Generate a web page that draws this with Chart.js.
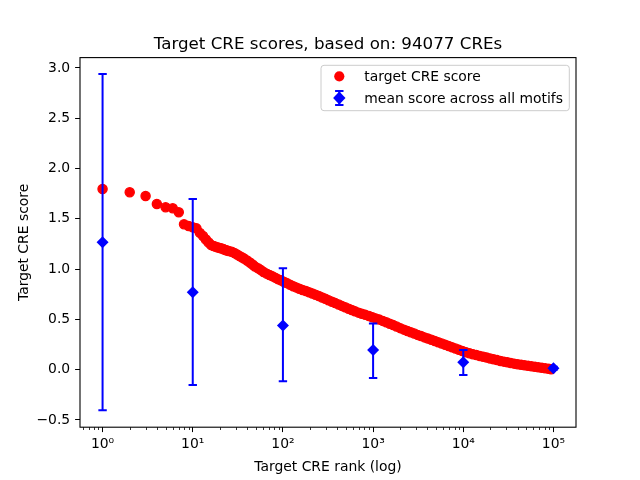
<!DOCTYPE html>
<html>
<head>
<meta charset="utf-8">
<script src="https://cdn.jsdelivr.net/npm/chart.js@4/dist/chart.umd.min.js"></script>
<style>
  html, body { margin: 0; padding: 0; background: #fff; }
  #wrap { width: 640px; height: 480px; }
</style>
</head>
<body>
<div id="wrap"><canvas id="myChart" width="640" height="480"></canvas></div>
<script>
// target CRE score by rank
var creRank = [1, 2, 3, 4, 5, 6, 7, 8, 9, 10, 11, 12, 13, 14, 15, 16, 17, 18, 19, 20,
  21, 22, 23, 24, 25, 27, 29, 31, 33, 35, 37, 40, 43, 46, 49, 53, 57, 61, 66, 71,
  76, 82, 88, 95, 102, 110, 120, 130, 140, 152, 165, 180, 195, 212, 230, 250, 272, 295, 320, 350,
  380, 415, 450, 490, 535, 580, 630, 690, 750, 820, 900, 980, 1070, 1170, 1280, 1400, 1530, 1670, 1820, 2000,
  2200, 2400, 2620, 2860, 3120, 3400, 3720, 4060, 4430, 4840, 5280, 5770, 6300, 6880, 7510, 8200, 8950, 9770, 10700, 11700,
  12800, 14000, 15300, 16700, 18200, 19900, 21700, 23700, 25900, 28300, 30900, 33700, 36800, 40200, 43900, 47900, 52300, 57100, 62400, 68100,
  74400, 81200, 88700, 94077];
var creScore = [1.797, 1.764, 1.727, 1.648, 1.615, 1.605, 1.565, 1.446, 1.429, 1.416, 1.405, 1.36, 1.33, 1.295, 1.265, 1.24, 1.23, 1.222, 1.215, 1.21,
  1.205, 1.198, 1.19, 1.185, 1.18, 1.172, 1.16, 1.145, 1.13, 1.118, 1.105, 1.085, 1.065, 1.045, 1.025, 1.008, 0.99, 0.972, 0.955, 0.942,
  0.93, 0.915, 0.9, 0.888, 0.875, 0.862, 0.845, 0.83, 0.818, 0.805, 0.793, 0.782, 0.77, 0.758, 0.745, 0.732, 0.718, 0.705, 0.69, 0.676,
  0.662, 0.648, 0.634, 0.62, 0.606, 0.593, 0.58, 0.567, 0.556, 0.545, 0.534, 0.522, 0.51, 0.498, 0.485, 0.471, 0.457, 0.443, 0.429, 0.413,
  0.398, 0.385, 0.372, 0.359, 0.346, 0.334, 0.321, 0.309, 0.297, 0.285, 0.272, 0.26, 0.247, 0.235, 0.222, 0.21, 0.197, 0.185, 0.174, 0.164,
  0.154, 0.145, 0.136, 0.128, 0.12, 0.111, 0.103, 0.095, 0.087, 0.08, 0.073, 0.066, 0.06, 0.054, 0.048, 0.043, 0.038, 0.033, 0.028, 0.023,
  0.018, 0.013, 0.008, 0.004];

// mean score across all motifs, with error bar ends
var meanRank = [1, 10, 100, 1000, 10000, 100000];
var meanScore = [1.267, 0.77, 0.44, 0.196, 0.073, 0.014];
var meanLow = [-0.404, -0.152, -0.116, -0.083, -0.053, 0.0];
var meanHigh = [2.94, 1.697, 1.008, 0.46, 0.196, 0.028];

var xMajorTicks = [1, 10, 100, 1000, 10000, 100000];
var xTickLabels = ['10\u2070', '10\u00b9', '10\u00b2', '10\u00b3', '10\u2074', '10\u2075'];
var yTicks = [-0.5, 0, 0.5, 1, 1.5, 2, 2.5, 3];

var titleText = 'Target CRE scores, based on: 94077 CREs';
var xLabel = 'Target CRE rank (log)';
var yLabel = 'Target CRE score';
var legendLabels = ['target CRE score', 'mean score across all motifs'];

var FONT = "'DejaVu Sans', sans-serif";

var decor = {
  id: 'decor',
  beforeDraw: function(chart) {
    var c = chart.ctx;
    c.save();
    c.fillStyle = '#fff';
    c.fillRect(0, 0, chart.width, chart.height);
    c.restore();
  },
  afterDatasetsDraw: function(chart) {
    var c = chart.ctx, xs = chart.scales.x, ys = chart.scales.y;
    c.save();
    c.strokeStyle = '#0000ff';
    c.lineWidth = 2;
    for (var i = 0; i < meanRank.length; i++) {
      var px = xs.getPixelForValue(meanRank[i]);
      var lo = ys.getPixelForValue(meanLow[i]);
      var hi = ys.getPixelForValue(meanHigh[i]);
      c.beginPath();
      c.moveTo(px, lo); c.lineTo(px, hi);
      c.moveTo(px - 4.2, lo); c.lineTo(px + 4.2, lo);
      c.moveTo(px - 4.2, hi); c.lineTo(px + 4.2, hi);
      c.stroke();
    }
    c.restore();
  },
  afterDraw: function(chart) {
    var c = chart.ctx, a = chart.chartArea, xs = chart.scales.x;
    c.save();
    // frame
    c.strokeStyle = '#000';
    c.lineWidth = 1.1;
    c.strokeRect(a.left, a.top, a.right - a.left, a.bottom - a.top);
    // minor ticks on log axis
    c.lineWidth = 0.8;
    c.beginPath();
    for (var d = 0.1; d < 1e6; d *= 10) {
      for (var m = 2; m <= 9; m++) {
        var v = m * d;
        if (v < xs.min || v > xs.max) continue;
        var px = Math.round(xs.getPixelForValue(v)) + 0.5;
        c.moveTo(px, a.bottom); c.lineTo(px, a.bottom + 2.8);
      }
    }
    c.stroke();
    // title and axis labels
    c.fillStyle = '#000';
    c.textAlign = 'center';
    c.textBaseline = 'alphabetic';
    c.font = '16.7px ' + FONT;
    c.fillText(titleText, (a.left + a.right) / 2, 49);
    c.font = '13.9px ' + FONT;
    c.fillText(xLabel, (a.left + a.right) / 2, 471);
    c.save();
    c.translate(27.5, (a.top + a.bottom) / 2);
    c.rotate(-Math.PI / 2);
    c.fillText(yLabel, 0, 0);
    c.restore();
    // legend box
    var lx = 321, ly = 65.3, lw = 248.3, lh = 45.4, r = 3;
    c.beginPath();
    c.moveTo(lx + r, ly);
    c.arcTo(lx + lw, ly, lx + lw, ly + lh, r);
    c.arcTo(lx + lw, ly + lh, lx, ly + lh, r);
    c.arcTo(lx, ly + lh, lx, ly, r);
    c.arcTo(lx, ly, lx + lw, ly, r);
    c.closePath();
    c.fillStyle = 'rgba(255,255,255,0.8)';
    c.fill();
    c.strokeStyle = '#cccccc';
    c.lineWidth = 1;
    c.stroke();
    // legend markers
    c.fillStyle = '#ff0000';
    c.beginPath();
    c.arc(339.3, 76.3, 5.1, 0, Math.PI * 2);
    c.fill();
    c.strokeStyle = '#0000ff';
    c.lineWidth = 2;
    c.beginPath();
    c.moveTo(339.3, 91); c.lineTo(339.3, 105);
    c.moveTo(335.1, 91); c.lineTo(343.5, 91);
    c.moveTo(335.1, 105); c.lineTo(343.5, 105);
    c.stroke();
    c.fillStyle = '#0000ff';
    c.beginPath();
    c.moveTo(339.3, 91.5); c.lineTo(345.5, 98); c.lineTo(339.3, 104.5); c.lineTo(333.1, 98);
    c.closePath();
    c.fill();
    // legend text
    c.fillStyle = '#000';
    c.textAlign = 'left';
    c.font = '13.9px ' + FONT;
    c.fillText(legendLabels[0], 364.3, 81);
    c.fillText(legendLabels[1], 364.3, 102.7);
    c.restore();
  }
};

var creData = creRank.map(function(r, i) { return { x: r, y: creScore[i] }; });
var meanData = meanRank.map(function(r, i) { return { x: r, y: meanScore[i] }; });

var contx = document.getElementById('myChart').getContext('2d');
var myChart = new Chart(contx, {
  type: 'scatter',
  data: {
    datasets: [{
      label: legendLabels[0],
      data: creData,
      order: 1,
      pointStyle: 'circle',
      pointRadius: 4.6,
      pointBorderWidth: 1.3,
      backgroundColor: '#ff0000',
      borderColor: '#ff0000'
    }, {
      label: legendLabels[1],
      data: meanData,
      order: 0,
      pointStyle: 'rectRot',
      pointRadius: 6,
      pointBorderWidth: 0,
      backgroundColor: '#0000ff',
      borderColor: '#0000ff'
    }]
  },
  plugins: [decor],
  options: {
    responsive: false,
    animation: false,
    devicePixelRatio: 1,
    layout: { padding: { left: 0, top: 57.6, right: 64, bottom: 0 } },
    plugins: {
      legend: { display: false },
      title: { display: false },
      tooltip: { enabled: false }
    },
    scales: {
      x: {
        type: 'logarithmic',
        min: 0.562,
        max: 177828,
        afterFit: function(s) { s.height = 52.8; },
        afterBuildTicks: function(s) {
          s.ticks = xMajorTicks.map(function(v) { return { value: v, major: true }; });
        },
        border: { display: false },
        grid: { drawOnChartArea: false, drawTicks: true, tickLength: 4.9, color: '#000', lineWidth: 1 },
        ticks: {
          autoSkip: false, maxRotation: 0, minRotation: 0, padding: 4,
          color: '#000', font: { family: FONT, size: 13.9 },
          callback: function(v) {
            var k = xMajorTicks.indexOf(v);
            return k >= 0 ? xTickLabels[k] : '';
          }
        }
      },
      y: {
        type: 'linear',
        min: -0.572,
        max: 3.103,
        afterFit: function(s) { s.width = 80; },
        afterBuildTicks: function(s) {
          s.ticks = yTicks.map(function(v) { return { value: v }; });
        },
        border: { display: false },
        grid: { drawOnChartArea: false, drawTicks: true, tickLength: 4.9, color: '#000', lineWidth: 1 },
        ticks: {
          autoSkip: false, padding: 4.9,
          color: '#000', font: { family: FONT, size: 13.9 },
          callback: function(v) {
            return (v < 0 ? '\u2212' : '') + Math.abs(v).toFixed(1);
          }
        }
      }
    }
  }
});
</script>
</body>
</html>
